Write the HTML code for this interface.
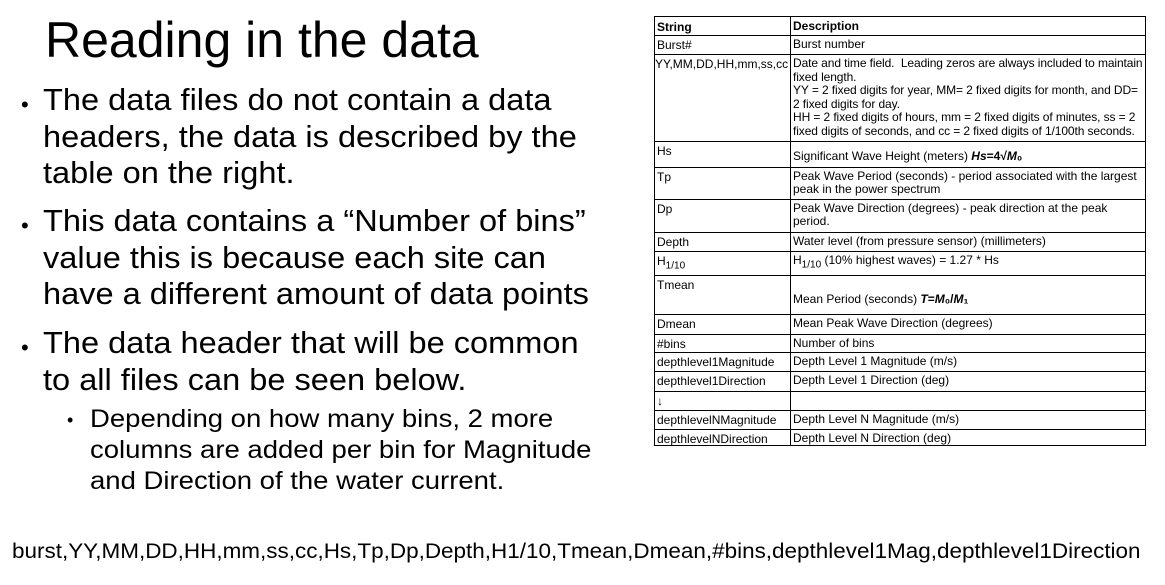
<!DOCTYPE html>
<html><head><meta charset="utf-8"><style>
body{margin:0;width:1165px;height:585px;background:#fff;position:relative;overflow:hidden;font-family:"Liberation Sans",sans-serif;color:#000}
.a{position:absolute;white-space:nowrap;transform-origin:0 0}
.t{font-size:50px;left:45px;top:11px}
.b{font-size:31px;left:43px;line-height:36.5px;transform:scaleX(1.05)}
.d{position:absolute;font-size:22px}
.s{font-size:25px;left:90px;line-height:31px;transform:scaleX(1.1)}
#tb{position:absolute;left:654px;top:16px;width:492px;height:430px;border:1.5px solid #000;box-sizing:border-box;font-size:12px}
.r{position:absolute;left:0;right:0;border-top:1.5px solid #000}
.c1{position:absolute;left:2px;top:2px}
.c2{position:absolute;left:138px;top:2px;right:0;line-height:13px}
.v{position:absolute;left:135px;top:0;bottom:0;border-left:1.5px solid #000}
</style></head><body>
<div class="a t">Reading in the data</div>
<div class="d" style="left:21px;top:92px">•</div>
<div class="a b" style="top:82px">The data files do not contain a data<br>headers, the data is described by the<br>table on the right.</div>
<div class="d" style="left:21px;top:213px">•</div>
<div class="a b" style="top:203px">This data contains a “Number of bins”<br>value this is because each site can<br>have a different amount of data points</div>
<div class="d" style="left:21px;top:335px">•</div>
<div class="a b" style="top:325px">The data header that will be common<br>to all files can be seen below.</div>
<div class="d" style="left:67px;top:410px;font-size:18px">•</div>
<div class="a s" style="top:404px">Depending on how many bins, 2 more<br>columns are added per bin for Magnitude<br>and Direction of the water current.</div>
<div class="a" style="left:12px;top:540px;font-size:21px;transform:scaleX(1.07)">burst,YY,MM,DD,HH,mm,ss,cc,Hs,Tp,Dp,Depth,H1/10,Tmean,Dmean,#bins,depthlevel1Mag,depthlevel1Direction</div>
<div id="tb">
<div class="v"></div>
<div class="c1" style="font-weight:bold;top:3px">String</div><div class="c2" style="font-weight:bold;top:3px">Description</div>
<div class="r" style="top:18px"><div class="c1">Burst#</div><div class="c2">Burst number</div></div>
<div class="r" style="top:37px"><div class="c1" style="left:0">YY,MM,DD,HH,mm,ss,cc</div><div class="c2" style="line-height:13.5px;letter-spacing:-0.1px">Date and time field.&nbsp; Leading zeros are always included to maintain fixed length.<br>YY = 2 fixed digits for year, MM= 2 fixed digits for month, and DD= 2 fixed digits for day.<br>HH = 2 fixed digits of hours, mm = 2 fixed digits of minutes, ss = 2 fixed digits of seconds, and cc = 2 fixed digits of 1/100th seconds.</div></div>
<div class="r" style="top:124px"><div class="c1">Hs</div><div class="c2" style="top:8px">Significant Wave Height (meters) <b><i>Hs</i>=4√<i>M</i>₀</b></div></div>
<div class="r" style="top:150px"><div class="c1">Tp</div><div class="c2">Peak Wave Period (seconds) - period associated with the largest peak in the power spectrum</div></div>
<div class="r" style="top:182px"><div class="c1">Dp</div><div class="c2">Peak Wave Direction (degrees) - peak direction at the peak period.</div></div>
<div class="r" style="top:215px"><div class="c1">Depth</div><div class="c2">Water level (from pressure sensor) (millimeters)</div></div>
<div class="r" style="top:234px"><div class="c1">H<sub>1/10</sub></div><div class="c2">H<sub>1/10</sub> (10% highest waves) = 1.27 * Hs</div></div>
<div class="r" style="top:258px"><div class="c1">Tmean</div><div class="c2" style="top:17px">Mean Period (seconds) <b><i>T</i>=<i>M</i>₀/<i>M</i>₁</b></div></div>
<div class="r" style="top:297px"><div class="c1">Dmean</div><div class="c2">Mean Peak Wave Direction (degrees)</div></div>
<div class="r" style="top:317px"><div class="c1">#bins</div><div class="c2">Number of bins</div></div>
<div class="r" style="top:335px"><div class="c1">depthlevel1Magnitude</div><div class="c2">Depth Level 1 Magnitude (m/s)</div></div>
<div class="r" style="top:354px"><div class="c1">depthlevel1Direction</div><div class="c2">Depth Level 1 Direction (deg)</div></div>
<div class="r" style="top:374px"><div class="c1">↓</div></div>
<div class="r" style="top:393px"><div class="c1">depthlevelNMagnitude</div><div class="c2">Depth Level N Magnitude (m/s)</div></div>
<div class="r" style="top:412px"><div class="c1">depthlevelNDirection</div><div class="c2">Depth Level N Direction (deg)</div></div>
</div>
</body></html>
